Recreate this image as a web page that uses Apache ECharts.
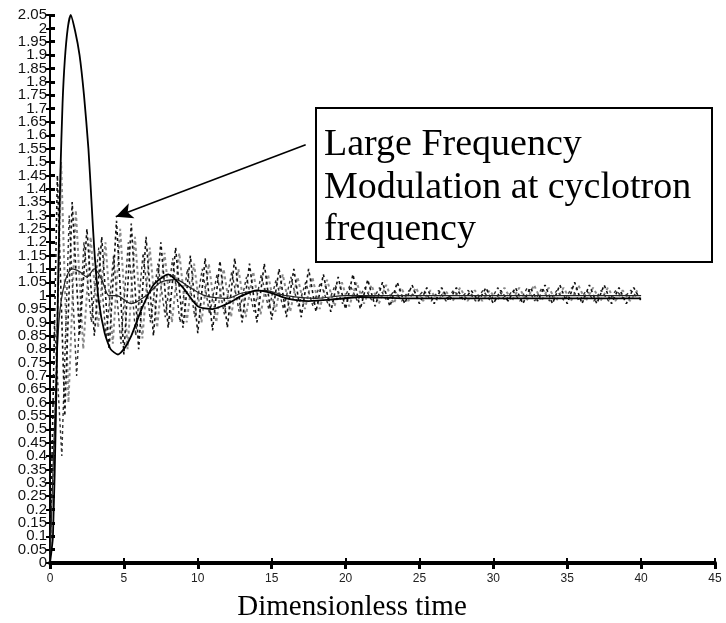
<!DOCTYPE html>
<html>
<head>
<meta charset="utf-8">
<script src="https://cdn.jsdelivr.net/npm/echarts@6/dist/echarts.min.js"></script>
<style>
  html, body { margin: 0; padding: 0; background: #fff; }
  #chart { width: 726px; height: 623px; }
</style>
</head>
<body>
<div id="chart"></div>
<script>
// y tick labels, one every 0.05 (the original prints them all, overlapping)
var yLabels = ['0', '0.05', '0.1', '0.15', '0.2', '0.25', '0.3', '0.35', '0.4', '0.45', '0.5', '0.55', '0.6', '0.65', '0.7', '0.75', '0.8', '0.85', '0.9', '0.95', '1', '1.05', '1.1', '1.15', '1.2', '1.25', '1.3', '1.35', '1.4', '1.45', '1.5', '1.55', '1.6', '1.65', '1.7', '1.75', '1.8', '1.85', '1.9', '1.95', '2', '2.05'];

// solid curve with the big overshoot
var solidT = [0, 0.2, 0.4, 0.55, 0.7, 0.85, 1.0, 1.2, 1.4, 1.7, 2.0, 2.3, 2.6, 2.8, 3.0, 3.3, 3.7, 4.1, 4.6, 5.0, 5.5, 6.2, 7.0, 8.0, 9.0, 10.0, 11.0, 12.0, 13.0, 14.0, 15.0, 16.0, 17.5, 19, 21, 24, 28, 32, 36, 40];
var solidV = [0, 0.1, 0.55, 1.05, 1.45, 1.72, 1.88, 2.0, 2.05, 1.99, 1.9, 1.75, 1.55, 1.36, 1.17, 0.98, 0.86, 0.8, 0.78, 0.8, 0.85, 0.95, 1.04, 1.08, 1.03, 0.96, 0.95, 0.97, 1.0, 1.02, 1.01, 0.99, 0.98, 0.985, 0.995, 0.99, 0.99, 0.99, 0.99, 0.99];

// solid mean curve
var meanT = [0, 0.3, 0.6, 1.0, 1.5, 2.0, 2.5, 3.0, 3.5, 4.0, 4.5, 5.5, 6.5, 7.5, 8.5, 9.5, 10.5, 12, 13, 14.5, 16, 18, 20, 25, 30, 35, 40];
var meanV = [0, 0.5, 0.9, 1.05, 1.1, 1.09, 1.07, 1.1, 1.06, 1.0, 1.0, 0.97, 1.0, 1.05, 1.06, 1.03, 1.0, 0.99, 1.01, 1.02, 1.0, 0.99, 1.0, 1.0, 1.0, 1.0, 1.0];

// dashed oscillations, one sample every 0.5 time units
var dashStep = 0.5;
var blackDash = [0, 1.45, 0.55, 1.35, 0.85, 1.25, 0.85, 1.22, 0.8, 1.28, 0.78, 1.27, 0.8, 1.22, 0.85, 1.2, 0.88, 1.18, 0.88, 1.15, 0.86, 1.14, 0.87, 1.13, 0.88, 1.14, 0.9, 1.12, 0.9, 1.12, 0.91, 1.1, 0.92, 1.1, 0.92, 1.1, 0.94, 1.08, 0.94, 1.07, 0.95, 1.08, 0.95, 1.06, 0.96, 1.05, 0.96, 1.05, 0.97, 1.04, 0.97, 1.03, 0.97, 1.03, 0.98, 1.03, 0.98, 1.02, 0.98, 1.03, 0.97, 1.02, 0.98, 1.03, 0.97, 1.03, 0.98, 1.04, 0.97, 1.04, 0.97, 1.05, 0.97, 1.04, 0.97, 1.04, 0.97, 1.03, 0.97, 1.03, 0.98];
var black2Start = 0.3;
var blackDash2 = [0.9, 0.4, 1.3, 0.7, 1.2, 0.9, 1.18, 0.84, 1.15, 0.82, 1.2, 0.85, 1.16, 0.9, 1.12, 0.92, 1.14, 0.9, 1.1, 0.92, 1.1, 0.93, 1.08, 0.93, 1.09, 0.94, 1.07, 0.94, 1.08, 0.95, 1.06, 0.95, 1.07, 0.96, 1.05, 0.96, 1.05, 0.97, 1.04, 0.97, 1.04, 0.98, 1.03, 0.98, 1.03, 0.98, 1.02, 0.98, 1.02, 0.99, 1.02, 0.98, 1.02, 0.98, 1.02, 0.99, 1.02, 0.98, 1.02, 0.98, 1.03, 0.98, 1.02, 0.98, 1.03, 0.98, 1.03, 0.98, 1.02, 0.98, 1.03, 0.98, 1.02, 0.98, 1.02, 0.98, 1.02, 0.99, 1.02, 0.99];
var greyStart = 0.25;
var greyDash = [0.3, 1.5, 0.6, 1.32, 0.8, 1.22, 0.88, 1.2, 0.82, 1.25, 0.8, 1.22, 0.84, 1.18, 0.88, 1.16, 0.9, 1.16, 0.9, 1.12, 0.9, 1.12, 0.9, 1.1, 0.92, 1.1, 0.92, 1.09, 0.93, 1.08, 0.94, 1.08, 0.94, 1.07, 0.95, 1.07, 0.95, 1.06, 0.96, 1.05, 0.96, 1.05, 0.97, 1.04, 0.97, 1.04, 0.97, 1.03, 0.98, 1.03, 0.98, 1.02, 0.98, 1.02, 0.98, 1.03, 0.98, 1.02, 0.98, 1.02, 0.98, 1.03, 0.98, 1.03, 0.98, 1.04, 0.98, 1.03, 0.98, 1.03, 0.98, 1.04, 0.98, 1.03, 0.98, 1.03, 0.98, 1.02, 0.98, 1.02];

// annotation arrow, in data coordinates
var arrowFrom = [17.3, 1.565];
var arrowTo = [4.45, 1.295];
var noteLines = ['Large Frequency', 'Modulation at cyclotron', 'frequency'];

function pairs(t, v) {
    var out = [];
    for (var i = 0; i < v.length; i++) out.push([t[i], v[i]]);
    return out;
}
function stepped(start, step, v) {
    var out = [];
    for (var i = 0; i < v.length; i++) out.push([start + i * step, v[i]]);
    return out;
}

var chart = echarts.init(document.getElementById('chart'));

var sans = 'Liberation Sans';
var noteFont = '38px "Liberation Serif"';

var option = {
    backgroundColor: '#fff',
    animation: false,
    grid: { left: 50, right: 11, top: 15, bottom: 60 },
    xAxis: [
        {
            type: 'value', min: 0, max: 45, interval: 5,
            axisLine: { lineStyle: { color: '#000', width: 2 } },
            axisTick: { inside: true, length: 5, lineStyle: { color: '#000', width: 2 } },
            axisLabel: { color: '#222', fontFamily: sans, fontSize: 12, margin: 10 },
            splitLine: { show: false }
        },
        {
            type: 'value', min: 0, max: 45, interval: 5, position: 'top',
            axisLine: { lineStyle: { color: '#000', width: 4 } },
            axisTick: { inside: true, length: 6, lineStyle: { color: '#000', width: 3 } },
            axisLabel: { show: false },
            splitLine: { show: false }
        }
    ],
    yAxis: [
        {
            type: 'value', min: 0, max: 2.05, interval: 0.05,
            axisLine: { lineStyle: { color: '#000', width: 2 } },
            axisTick: { inside: true, length: 5, lineStyle: { color: '#000', width: 3 } },
            axisLabel: { show: false },
            splitLine: { show: false }
        },
        {
            type: 'value', min: 0, max: 2.05, interval: 0.05, position: 'right',
            axisLine: { lineStyle: { color: '#000', width: 2 } },
            axisTick: { inside: true, length: 4, lineStyle: { color: '#000', width: 2 } },
            axisLabel: { show: false },
            splitLine: { show: false }
        },
        {
            // label-only axis so that every crowded tick label is printed
            type: 'category', position: 'left', boundaryGap: false, data: yLabels,
            axisLine: { show: false },
            axisTick: { show: false },
            axisLabel: { interval: 0, color: '#111', fontFamily: sans, fontSize: 15, margin: 3 },
            splitLine: { show: false }
        }
    ],
    series: [
        {
            type: 'line', name: 'grey', showSymbol: false,
            data: stepped(greyStart, dashStep, greyDash),
            lineStyle: { color: '#8a8a8a', width: 2, type: [3, 3] }
        },
        {
            type: 'line', name: 'black2', showSymbol: false,
            data: stepped(black2Start, dashStep, blackDash2),
            lineStyle: { color: '#333', width: 1.4, type: [3, 3] }
        },
        {
            type: 'line', name: 'black', showSymbol: false,
            data: stepped(0, dashStep, blackDash),
            lineStyle: { color: '#111', width: 1.6, type: [3, 3] }
        },
        {
            type: 'line', name: 'mean', showSymbol: false, smooth: 0.3,
            data: pairs(meanT, meanV),
            lineStyle: { color: '#222', width: 1.2 }
        },
        {
            type: 'line', name: 'solid', showSymbol: false, smooth: 0.2,
            data: pairs(solidT, solidV),
            lineStyle: { color: '#000', width: 1.8 },
            markLine: {
                silent: true,
                symbol: ['none', 'arrow'],
                symbolSize: [12, 17],
                label: { show: false },
                lineStyle: { color: '#000', width: 1.6, type: 'solid' },
                data: [[{ coord: arrowFrom }, { coord: arrowTo }]]
            }
        }
    ],
    graphic: [
        {
            type: 'rect', z: 100,
            shape: { x: 316, y: 108, width: 396, height: 154 },
            style: { fill: '#fff', stroke: '#000', lineWidth: 2 }
        },
        {
            type: 'text', z: 101, x: 324, y: 145,
            style: { text: noteLines[0], font: noteFont, fill: '#000', verticalAlign: 'middle' }
        },
        {
            type: 'text', z: 101, x: 324, y: 188,
            style: { text: noteLines[1], font: noteFont, fill: '#000', verticalAlign: 'middle' }
        },
        {
            type: 'text', z: 101, x: 324, y: 230,
            style: { text: noteLines[2], font: noteFont, fill: '#000', verticalAlign: 'middle' }
        },
        {
            type: 'text', z: 101, x: 352, y: 607,
            style: { text: 'Dimensionless time', font: '29px "Liberation Serif"', fill: '#000', align: 'center', verticalAlign: 'middle' }
        }
    ]
};

chart.setOption(option);
</script>
</body>
</html>
